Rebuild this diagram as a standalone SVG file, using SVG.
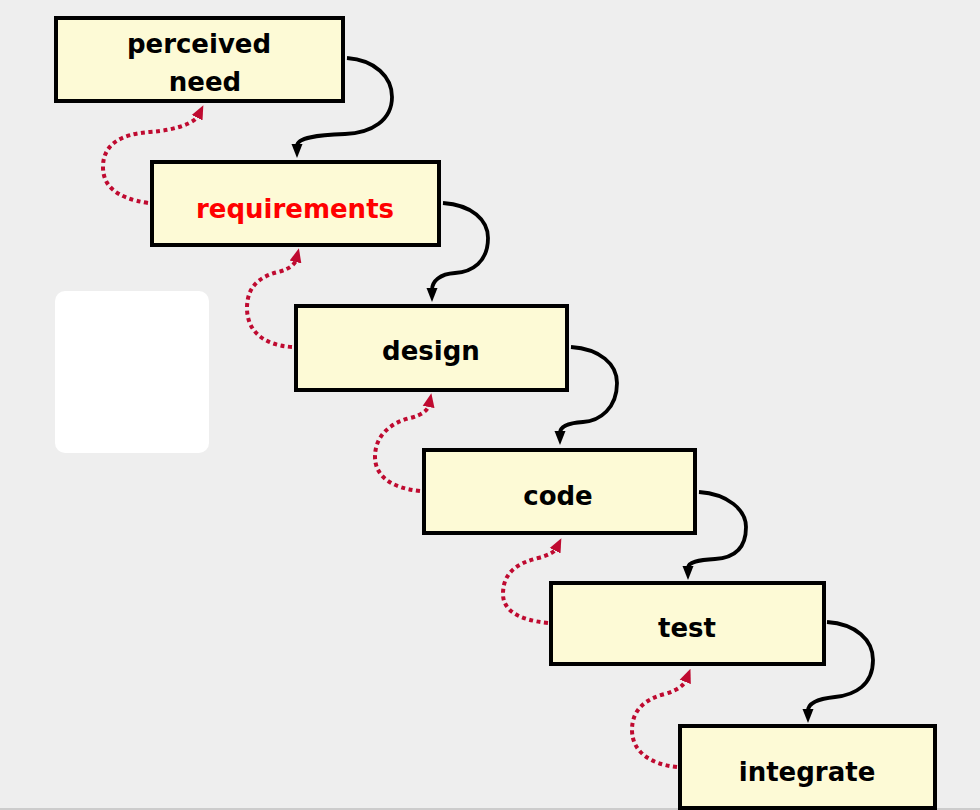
<svg xmlns="http://www.w3.org/2000/svg" width="980" height="810" viewBox="0 0 980 810">
  <defs>
    <style>
      .box { fill: #fdfad6; stroke: #000; stroke-width: 4; }
      .lbl { font-family: "DejaVu Sans", "Liberation Sans", sans-serif; font-weight: bold; font-size: 26px; fill: #000; text-anchor: middle; }
      .red { fill: #ff0000; }
      .flow { fill: none; stroke: #000; stroke-width: 3.8; marker-end: url(#ah); }
      .back { fill: none; stroke: #bf0a30; stroke-width: 4; stroke-dasharray: 4 3.5; marker-end: url(#rh); }
    </style>
    <marker id="ah" markerUnits="userSpaceOnUse" markerWidth="14" markerHeight="12" refX="2" refY="6" orient="auto" viewBox="0 0 14 12">
      <path d="M0,0.5 L14,6 L0,11.5 z" fill="#000"/>
    </marker>
    <marker id="rh" markerUnits="userSpaceOnUse" markerWidth="14" markerHeight="13" refX="2" refY="6.5" orient="auto" viewBox="0 0 14 13">
      <path d="M0,0.5 L14,6.5 L0,12.5 z" fill="#bf0a30"/>
    </marker>
  </defs>
  <rect x="0" y="0" width="980" height="810" fill="#eeeeee"/>
  <line x1="0" y1="809" x2="980" y2="809" stroke="#cccccc" stroke-width="2"/>
  <rect x="55" y="291" width="154" height="162" rx="10" fill="#ffffff"/>

  <g id="connectors">
    <path class="flow" d="M347,58 C375,60 392,77 392,97 C392,120 372,133 345,134 C318,135 297,137 297,146"/>
    <path class="flow" d="M443,203 C472,205 488,220 488,238 C488,262 472,272 455,273 C440,274 432,281 432,290"/>
    <path class="flow" d="M571,347 C600,349 617,364 617,383 C617,408 600,421 583,422 C568,423 560,427 560,433"/>
    <path class="flow" d="M699,492 C728,494 746,510 746,527 C746,550 732,558 715,559 C698,560 688,562 688,568"/>
    <path class="flow" d="M827,622 C856,624 873,640 873,660 C873,685 855,695 835,697 C815,699 808,704 808,711"/>

    <path class="back" d="M148,203 C115,198 103,185 103,167 C103,145 120,134 150,132 C178,130 195,122 198,116"/>
    <path class="back" d="M292,347 C262,345 247,330 247,308 C247,288 258,277 278,272 C290,269 295,264 296,260"/>
    <path class="back" d="M420,491 C390,488 375,475 375,457 C375,436 390,423 410,418 C422,415 428,410 429,405"/>
    <path class="back" d="M548,623 C518,620 503,610 503,594 C503,572 518,563 538,558 C550,555 555,551 556,549"/>
    <path class="back" d="M677,767 C648,764 632,750 632,730 C632,710 645,699 665,694 C678,690 684,685 686,680"/>
  </g>

  <g id="perceived-need">
    <rect class="box" x="56" y="18" width="287" height="83"/>
    <text class="lbl" x="199" y="53">perceived</text>
    <text class="lbl" x="205" y="91">need</text>
  </g>
  <g id="requirements">
    <rect class="box" x="152" y="162" width="287" height="83"/>
    <text class="lbl red" x="295" y="218">requirements</text>
  </g>
  <g id="design">
    <rect class="box" x="296" y="306" width="271" height="84"/>
    <text class="lbl" x="431" y="360">design</text>
  </g>
  <g id="code">
    <rect class="box" x="424" y="450" width="271" height="83"/>
    <text class="lbl" x="558" y="505">code</text>
  </g>
  <g id="test">
    <rect class="box" x="551" y="583" width="273" height="81"/>
    <text class="lbl" x="687" y="637">test</text>
  </g>
  <g id="integrate">
    <rect class="box" x="680" y="726" width="255" height="82"/>
    <text class="lbl" x="807" y="781">integrate</text>
  </g>
</svg>
